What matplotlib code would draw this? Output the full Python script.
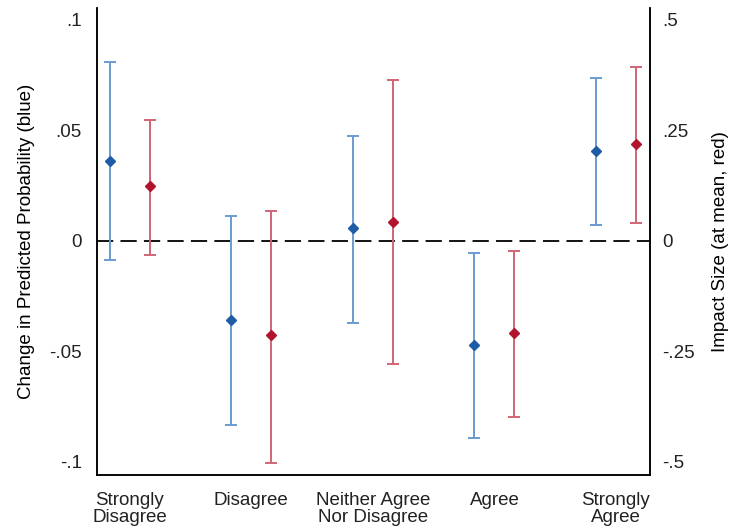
import matplotlib.pyplot as plt
import numpy as np

plt.rcParams['font.family'] = ['Liberation Sans', 'DejaVu Sans']

categories = ['Strongly\nDisagree', 'Disagree', 'Neither Agree\nNor Disagree', 'Agree', 'Strongly\nAgree']

# change in predicted probability (left axis)
blue_est = [0.0363, -0.0357, 0.0057, -0.0470, 0.0407]
blue_lo = [-0.0086, -0.0833, -0.0370, -0.0890, 0.0072]
blue_hi = [0.0808, 0.0113, 0.0476, -0.0054, 0.0738]

# impact size at mean (right axis)
red_est = [0.125, -0.213, 0.043, -0.208, 0.219]
red_lo = [-0.032, -0.502, -0.279, -0.398, 0.040]
red_hi = [0.274, 0.068, 0.364, -0.023, 0.394]

blue_line = '#6a9bd1'
blue_pt = '#1f5ca8'
red_line = '#d06576'
red_pt = '#b1142c'

x = np.arange(1, len(categories) + 1)
off = 0.165
fs = 13.5

fig = plt.figure(figsize=(7.30, 5.31), dpi=100)
ax = fig.add_axes([97 / 730, 56 / 531, 553 / 730, 467 / 531])
ax2 = ax.twinx()

be = np.array(blue_est)
ax.errorbar(x - off, be, yerr=[be - np.array(blue_lo), np.array(blue_hi) - be],
            fmt='none', ecolor=blue_line, elinewidth=1.4, capsize=4, capthick=1.4)
ax.plot(x - off, be, 'D', color=blue_pt, ms=5.5, zorder=5)

re = np.array(red_est)
ax2.errorbar(x + off, re, yerr=[re - np.array(red_lo), np.array(red_hi) - re],
             fmt='none', ecolor=red_line, elinewidth=1.4, capsize=4, capthick=1.4)
ax2.plot(x + off, re, 'D', color=red_pt, ms=5.5, zorder=5)

ax.axhline(0, color='black', ls=(0, (9, 4)), lw=1.3, zorder=1)

ylim = (-0.1059, 0.1054)
ax.set_ylim(*ylim)
ax2.set_ylim(ylim[0] * 5, ylim[1] * 5)
ax.set_xlim(0.73, 5.28)

ax.set_yticks([-0.1, -0.05, 0, 0.05, 0.1])
ax.set_yticklabels(['-.1', '-.05', '0', '.05', '.1'])
ax2.set_yticks([-0.5, -0.25, 0, 0.25, 0.5])
ax2.set_yticklabels(['-.5', '-.25', '0', '.25', '.5'])
ax.set_xticks(x)
ax.set_xticklabels(categories)

for a in (ax, ax2):
    a.spines['top'].set_visible(False)
    for s in ('left', 'right', 'bottom'):
        a.spines[s].set_linewidth(1.1)
    a.tick_params(length=0, labelsize=fs, colors='#222222')
ax.tick_params(axis='y', pad=11)
ax2.tick_params(axis='y', pad=9)
ax.tick_params(axis='x', pad=12)
for lbl in ax.get_xticklabels():
    lbl.set_linespacing(1.0)

ax.set_ylabel('Change in Predicted Probability (blue)', fontsize=fs, labelpad=10)
ax2.set_ylabel('Impact Size (at mean, red)', fontsize=fs, labelpad=12)

fig.savefig('out.png', dpi=100)
